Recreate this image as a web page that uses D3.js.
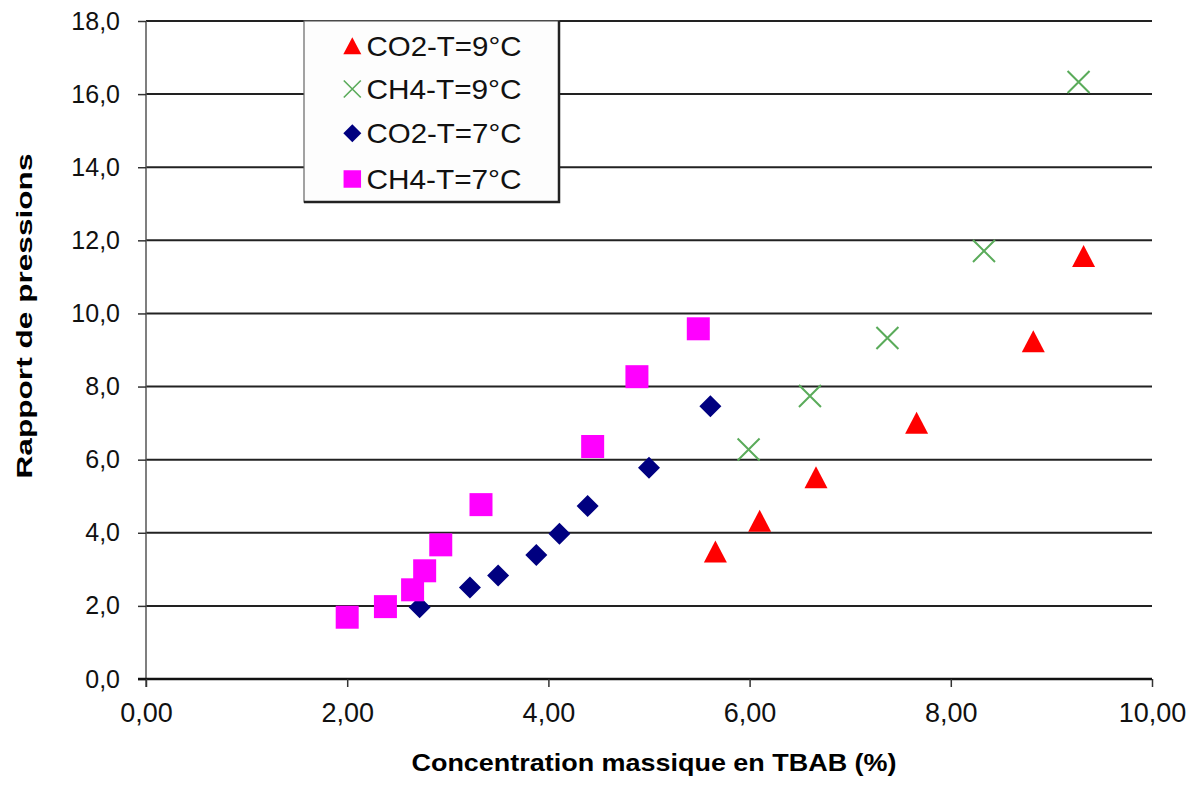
<!DOCTYPE html>
<html>
<head>
<meta charset="utf-8">
<script src="https://cdn.jsdelivr.net/npm/d3@7"></script>
<style>
  html, body { margin: 0; padding: 0; background: #fff; }
  svg { display: block; font-family: "Liberation Sans", Arial, sans-serif; }
</style>
</head>
<body>
<svg id="chart" width="1193" height="796"></svg>
<script>
// ---- Data ----
const co2T9x = [5.66, 6.10, 6.66, 7.66, 8.82, 9.32];
const co2T9y = [3.49, 4.33, 5.52, 7.01, 9.24, 11.57];
const ch4T9x = [5.99, 6.60, 7.37, 8.33, 9.27];
const ch4T9y = [6.28, 7.74, 9.33, 11.71, 16.33];
const co2T7x = [2.72, 3.22, 3.50, 3.88, 4.11, 4.39, 5.00, 5.61];
const co2T7y = [1.96, 2.50, 2.83, 3.39, 3.97, 4.73, 5.78, 7.46];
const ch4T7x = [2.00, 2.38, 2.65, 2.77, 2.93, 3.33, 4.44, 4.88, 5.49];
const ch4T7y = [1.69, 1.98, 2.44, 2.96, 3.67, 4.77, 6.36, 8.27, 9.58];
const seriesNames = ["CO2-T=9°C", "CH4-T=9°C", "CO2-T=7°C", "CH4-T=7°C"];
const xTicks = [0, 2, 4, 6, 8, 10];
const yTicks = [0, 2, 4, 6, 8, 10, 12, 14, 16, 18];
const xTitle = "Concentration massique en TBAB (%)";
const yTitle = "Rapport de pressions";

const svg = d3.select("#chart");
const x = d3.scaleLinear().domain([0, 10]).range([146, 1152]);
const y = d3.scaleLinear().domain([0, 18]).range([679, 21]);

const fmtX = v => d3.format(".2f")(v).replace(".", ",");
const fmtY = v => d3.format(".1f")(v).replace(".", ",");

// gridlines
svg.append("g").selectAll("line").data(yTicks.filter(d => d > 0)).join("line")
  .attr("x1", x(0)).attr("x2", x(10))
  .attr("y1", d => y(d)).attr("y2", d => y(d))
  .attr("stroke", "#222").attr("stroke-width", 2);

// y axis
const yAxis = svg.append("g").attr("transform", `translate(${x(0)},0)`)
  .call(d3.axisLeft(y).tickValues(yTicks).tickFormat(fmtY).tickSize(8).tickPadding(18));
yAxis.select(".domain").attr("stroke", "#555").attr("stroke-width", 1.5)
  .attr("d", `M0,${y(18)}V${y(0) + 8}`);
yAxis.selectAll(".tick line").attr("stroke", "#333").attr("stroke-width", 1.5);
yAxis.selectAll(".tick text").attr("font-size", 25).attr("fill", "#111")
  .attr("font-family", "Liberation Sans, Arial, sans-serif");

// x axis
const xAxis = svg.append("g").attr("transform", `translate(0,${y(0)})`)
  .call(d3.axisBottom(x).tickValues(xTicks).tickFormat(fmtX).tickSize(8).tickPadding(16));
xAxis.select(".domain").attr("stroke", "#111").attr("stroke-width", 2.5)
  .attr("d", `M${x(0) - 8},0H${x(10)}`);
xAxis.selectAll(".tick line").attr("stroke", "#333").attr("stroke-width", 1.5);
xAxis.selectAll(".tick text").attr("font-size", 27).attr("fill", "#111")
  .attr("font-family", "Liberation Sans, Arial, sans-serif");

// axis titles
svg.append("text").attr("x", 654).attr("y", 771).attr("text-anchor", "middle")
  .attr("font-size", 24).attr("font-weight", "bold").attr("fill", "#000")
  .attr("textLength", 485).attr("lengthAdjust", "spacingAndGlyphs")
  .text(xTitle);
svg.append("text").attr("transform", "translate(32,316) rotate(-90)")
  .attr("text-anchor", "middle")
  .attr("font-size", 22).attr("font-weight", "bold").attr("fill", "#000")
  .attr("textLength", 325).attr("lengthAdjust", "spacingAndGlyphs")
  .text(yTitle);

// marker shapes
function triPath(w, h) { return `M0,${-h/2}L${w/2},${h/2}L${-w/2},${h/2}Z`; }
function diaPath(d) { const r = d/2; return `M0,${-r}L${r},0L0,${r}L${-r},0Z`; }
function sqPath(s) { const r = s/2; return `M${-r},${-r}H${r}V${r}H${-r}Z`; }
function crossPath(s) { const r = s/2; return `M${-r},${-r}L${r},${r}M${r},${-r}L${-r},${r}`; }

const styles = [
  { xs: co2T9x, ys: co2T9y, path: triPath(23, 22), leg: triPath(18, 17), fill: "#ff0000", stroke: "none" },
  { xs: ch4T9x, ys: ch4T9y, path: crossPath(22), leg: crossPath(17), fill: "none", stroke: "#5aab5a" },
  { xs: co2T7x, ys: co2T7y, path: diaPath(22), leg: diaPath(18), fill: "#000080", stroke: "none" },
  { xs: ch4T7x, ys: ch4T7y, path: sqPath(23), leg: sqPath(17.5), fill: "#ff00ff", stroke: "none" }
];

styles.forEach(s => {
  const pts = s.xs.map((v, i) => [v, s.ys[i]]);
  svg.append("g").selectAll("path").data(pts).join("path")
    .attr("transform", d => `translate(${x(d[0])},${y(d[1])})`)
    .attr("d", s.path)
    .attr("fill", s.fill)
    .attr("stroke", s.stroke)
    .attr("stroke-width", s.stroke === "none" ? 0 : 2);
});

// legend
const lg = svg.append("g");
lg.append("rect").attr("x", 304).attr("y", 21).attr("width", 255).attr("height", 181)
  .attr("fill", "#fdfdfd").attr("stroke", "#666").attr("stroke-width", 1.2);
lg.append("path").attr("d", "M559,21V202H304").attr("fill", "none")
  .attr("stroke", "#222").attr("stroke-width", 2.5);
const rowY = [45.7, 89, 133.3, 179];
seriesNames.forEach((name, i) => {
  const s = styles[i];
  lg.append("path").attr("transform", `translate(352.3,${rowY[i]})`)
    .attr("d", s.leg).attr("fill", s.fill).attr("stroke", s.stroke)
    .attr("stroke-width", s.stroke === "none" ? 0 : 1.6);
  lg.append("text").attr("x", 366.5).attr("y", rowY[i] + 10)
    .attr("font-size", 28).attr("fill", "#111")
    .attr("textLength", 155).attr("lengthAdjust", "spacingAndGlyphs")
    .text(name);
});
</script>
</body>
</html>
